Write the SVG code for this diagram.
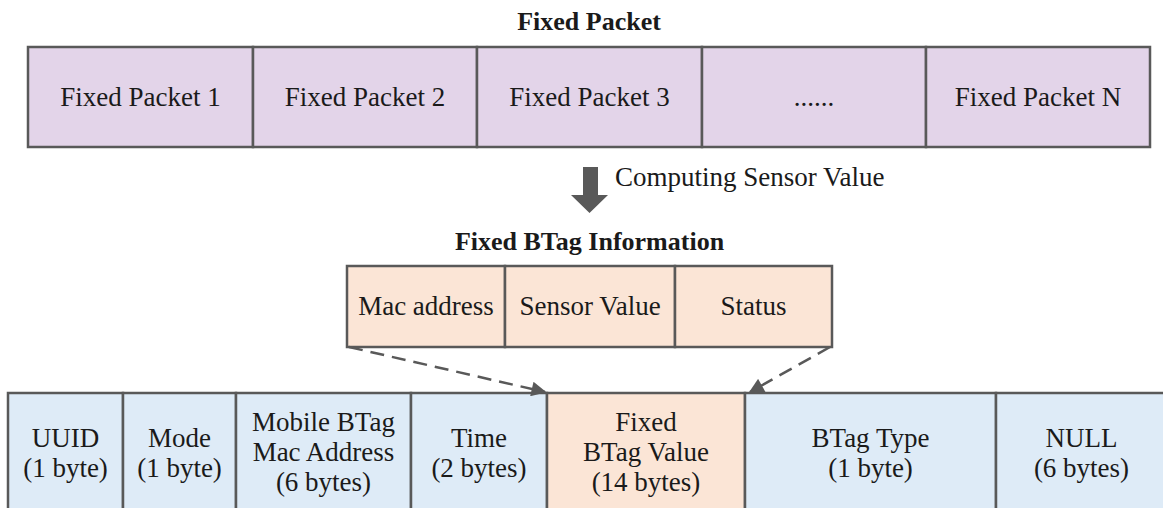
<svg xmlns="http://www.w3.org/2000/svg" width="1163" height="508" viewBox="0 0 1163 508" font-family="'Liberation Serif', 'DejaVu Serif', serif">
  <style>
    text { font-family: 'Liberation Serif', 'DejaVu Serif', serif; font-size: 27px; fill: #1a1a1a; text-anchor: middle; }
    .title { font-weight: bold; font-size: 26px; }
    .cell { stroke: #595959; stroke-width: 2.5; }
    .packet { fill: #e3d4e9; }
    .info { fill: #fbe5d6; }
    .field { fill: #deebf7; }
    .dash { fill: none; stroke: #595959; stroke-width: 2.5; stroke-dasharray: 14 8; }
  </style>
  <defs>
    <marker id="head" viewBox="0 0 10 10" refX="9" refY="5" markerWidth="7" markerHeight="6" markerUnits="strokeWidth" orient="auto">
      <path d="M0,0 L10,5 L0,10 z" fill="#595959"/>
    </marker>
  </defs>
  <rect width="1163" height="508" fill="#ffffff"/>

  <!-- Fixed packet sequence -->
  <text class="title" x="589" y="30">Fixed Packet</text>
  <g id="packet-1"><rect class="cell packet" x="28" y="47" width="225" height="100"/><text x="140.5" y="106">Fixed Packet 1</text></g>
  <g id="packet-2"><rect class="cell packet" x="253" y="47" width="224" height="100"/><text x="365" y="106">Fixed Packet 2</text></g>
  <g id="packet-3"><rect class="cell packet" x="477" y="47" width="225" height="100"/><text x="589.5" y="106">Fixed Packet 3</text></g>
  <g id="packet-more"><rect class="cell packet" x="702" y="47" width="224" height="100"/><text x="814" y="106">......</text></g>
  <g id="packet-n"><rect class="cell packet" x="926" y="47" width="224" height="100"/><text x="1038" y="106">Fixed Packet N</text></g>

  <!-- Processing step -->
  <g id="compute-step">
    <path d="M583,167 H598 V195 H608 L589.5,213 L571,195 H583 Z" fill="#595959"/>
    <text x="615" y="186" style="text-anchor:start">Computing Sensor Value</text>
  </g>

  <!-- Fixed BTag information -->
  <text class="title" x="589.5" y="250">Fixed BTag Information</text>
  <g id="info-mac"><rect class="cell info" x="347" y="266" width="158" height="81"/><text x="426" y="315">Mac address</text></g>
  <g id="info-sensor"><rect class="cell info" x="505" y="266" width="170" height="81"/><text x="590" y="315">Sensor Value</text></g>
  <g id="info-status"><rect class="cell info" x="675" y="266" width="157" height="81"/><text x="753.5" y="315">Status</text></g>

  <!-- Packet layout fields -->
  <g id="field-uuid"><rect class="cell field" x="8" y="393" width="115" height="125"/><text x="65.5" y="447">UUID</text><text x="65.5" y="477">(1 byte)</text></g>
  <g id="field-mode"><rect class="cell field" x="123" y="393" width="113" height="125"/><text x="179.5" y="447">Mode</text><text x="179.5" y="477">(1 byte)</text></g>
  <g id="field-mobile"><rect class="cell field" x="236" y="393" width="175" height="125"/><text x="323.5" y="431">Mobile BTag</text><text x="323.5" y="461">Mac Address</text><text x="323.5" y="491">(6 bytes)</text></g>
  <g id="field-time"><rect class="cell field" x="411" y="393" width="136" height="125"/><text x="479" y="447">Time</text><text x="479" y="477">(2 bytes)</text></g>
  <g id="field-fixed"><rect class="cell info" x="547" y="393" width="198" height="125"/><text x="646" y="431">Fixed</text><text x="646" y="461">BTag Value</text><text x="646" y="491">(14 bytes)</text></g>
  <g id="field-type"><rect class="cell field" x="745" y="393" width="251" height="125"/><text x="870.5" y="447">BTag Type</text><text x="870.5" y="477">(1 byte)</text></g>
  <g id="field-null"><rect class="cell field" x="996" y="393" width="172" height="125"/><text x="1081.5" y="447">NULL</text><text x="1081.5" y="477">(6 bytes)</text></g>

  <!-- Connectors -->
  <g id="connectors">
    <line class="dash" x1="349" y1="347" x2="545" y2="392" marker-end="url(#head)"/>
    <line class="dash" x1="830" y1="347" x2="750" y2="392" marker-end="url(#head)"/>
  </g>
</svg>
